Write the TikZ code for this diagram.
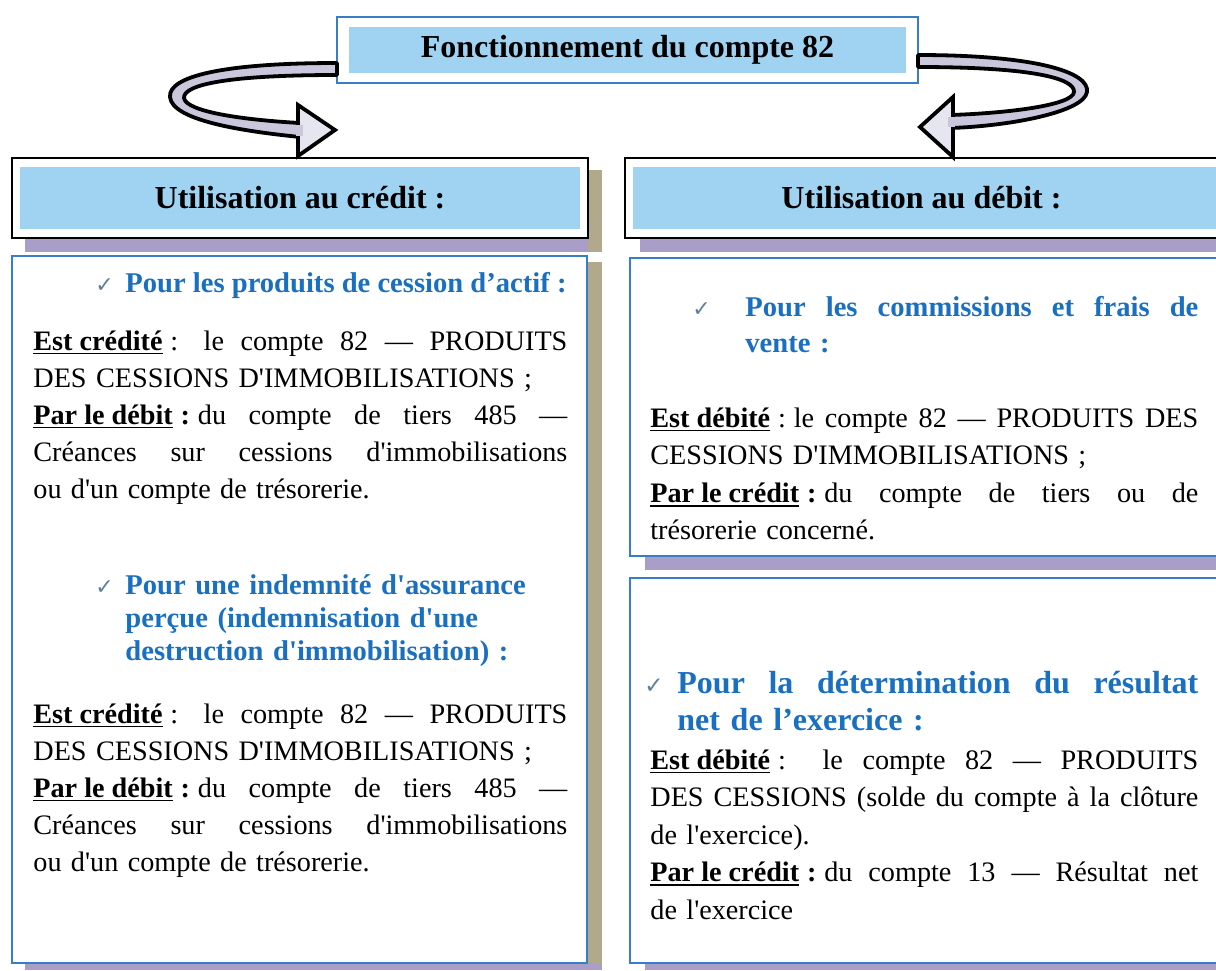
\documentclass[tikz,border=0pt]{standalone}
\usepackage{fontspec}
\usepackage{graphicx}
\newfontfamily\tms{Liberation Serif}
\newfontfamily\djv{DejaVu Sans}
\definecolor{bordblue}{RGB}{55,125,200}
\definecolor{band}{RGB}{160,210,242}
\definecolor{txtblue}{RGB}{26,112,192}
\definecolor{shpurple}{RGB}{168,158,200}
\definecolor{shtan}{RGB}{178,168,140}
\definecolor{ribbon}{RGB}{202,198,220}
\definecolor{headfill}{RGB}{230,230,240}
\definecolor{checkc}{RGB}{96,128,160}
\newcommand\jline[1]{\noindent{\spaceskip=\fontdimen2\font plus 1fil\relax\xspaceskip=\spaceskip
  \setbox0\hbox{#1}\ifdim\wd0>\hsize\resizebox{\hsize}{\height}{\box0}\else\hbox to \hsize{\unhbox0}\fi}}
\newcommand\ub[1]{\setbox2\hbox{\bfseries #1}\rlap{\rule[-2.2pt]{\wd2}{0.9pt}}\box2\relax}
\newcommand\fsp{\hspace{0.28em}}
\tikzset{
  titlebox/.style={draw=bordblue, line width=1pt, fill=white, minimum width=290.5pt, minimum height=33pt, inner sep=0,
    path picture={\fill[band] ([shift={(6pt,-5pt)}]path picture bounding box.north west) rectangle ([shift={(-6pt,5pt)}]path picture bounding box.south east);},
    font=\tms\bfseries\fontsize{16}{18}\selectfont},
  headbox/.style={draw=black, line width=1.1pt, fill=white, minimum height=40pt, inner sep=0,
    path picture={\fill[band] ([shift={(4pt,-4.5pt)}]path picture bounding box.north west) rectangle ([shift={(-4pt,4.5pt)}]path picture bounding box.south east);},
    font=\tms\bfseries\fontsize{16}{18}\selectfont},
  cbox/.style={draw=bordblue, line width=1pt, fill=white, inner sep=0},
  shp/.style={fill=shpurple},
  sht/.style={fill=shtan},
  bluehead/.style={font=\tms\bfseries\fontsize{14.3}{16.5}\selectfont, text=txtblue, inner sep=0, anchor=base west, align=left},
  bodytext/.style={font=\tms\fontsize{14.1}{18.5}\selectfont, inner sep=0, anchor=base west, align=left},
  chk/.style={font=\djv\fontsize{11}{12}\selectfont, text=checkc, inner sep=0, anchor=base west},
  rib/.style={draw=black, line width=1.9pt, line join=round, fill=ribbon},
  arrhead/.style={draw=black, line width=1.9pt, line join=miter, fill=headfill}
}
\begin{document}
\begin{tikzpicture}[x=0.5pt,y=-0.5pt]
\useasboundingbox (0,0) rectangle (1216,970);
% shadows
\fill[shp] (25,238) rectangle (602,252);
\fill[sht] (588,170) rectangle (602,252);
\fill[shp] (640,238) rectangle (1216,252);
\fill[sht] (587,262) rectangle (602,968);
\fill[shp] (25,963) rectangle (602,970);
\fill[shp] (645,556) rectangle (1216,570);
\fill[shp] (645,963) rectangle (1216,970);
% title
\node[titlebox] (title) at (627.5,50) {Fonctionnement du compte 82};
% headers
\node[headbox, minimum width=288pt] (hl) at (300,198) {Utilisation au crédit :};
\node[headbox, minimum width=302.5pt] (hr) at (927.5,198) {\hspace*{-6pt}Utilisation au débit :};
% content boxes
\node[cbox, minimum width=287.5pt, minimum height=353.5pt] (bl) at (299.5,609.5) {};
\node[cbox, minimum width=300pt, minimum height=149pt] (br1) at (930,407) {};
\node[cbox, minimum width=300pt, minimum height=192.5pt] (br2) at (930,770.5) {};
% ribbons (left)
\draw[rib] (337,63) .. controls (225,63) and (168,76) .. (170,97) .. controls (172,120) and (240,131) .. (300,137)
  -- (300,123) .. controls (245,120) and (186,112) .. (184,98) .. controls (183,84) and (232,75) .. (337,75) -- cycle;
\draw[arrhead] (298,105) -- (335,130) -- (298,156) -- cycle;
\fill[ribbon] (296,124.5) rectangle (303,135.5);
% ribbons (right)
\draw[rib] (918,55) .. controls (1035,55) and (1090,72) .. (1087,92) .. controls (1084,112) and (1010,126) .. (951,128)
  -- (951,115) .. controls (1010,113) and (1073,105) .. (1074,92) .. controls (1075,78) and (1030,67) .. (918,67) -- cycle;
\draw[arrhead] (953,97) -- (920,127) -- (953,157) -- cycle;
\fill[ribbon] (948,116.5) rectangle (955,126.5);
% left box texts
\node[chk] (c1) at (95,292) {✓};
\node[bluehead] (h1) at (125,292) {Pour les produits de cession d’actif :};
\node[bodytext, text width=267pt] (t1) at (33,350) {%
\jline{\ub{Est crédité}\fsp:\hspace{0.9em}le compte 82 — PRODUITS}\\
DES CESSIONS D'IMMOBILISATIONS ;\\
\jline{\ub{Par le débit}\fsp\textbf{:}\fsp du compte de tiers 485 —}\\
\jline{Créances sur cessions d'immobilisations}\\
ou d'un compte de trésorerie.};
\node[chk] (c2) at (95,594) {✓};
\node[bluehead, text width=221pt] (h2) at (125,594) {Pour une indemnité d'assurance\\perçue (indemnisation d'une\\destruction d'immobilisation) :};
\node[bodytext, text width=267pt] (t2) at (33,723) {%
\jline{\ub{Est crédité}\fsp:\hspace{0.9em}le compte 82 — PRODUITS}\\
DES CESSIONS D'IMMOBILISATIONS ;\\
\jline{\ub{Par le débit}\fsp\textbf{:}\fsp du compte de tiers 485 —}\\
\jline{Créances sur cessions d'immobilisations}\\
ou d'un compte de trésorerie.};
% right box 1 texts
\node[chk] (c3) at (692,316) {✓};
\node[bluehead, font=\tms\bfseries\fontsize{14.3}{18}\selectfont, text width=226.5pt] (h3) at (745,316) {%
\jline{Pour les commissions et frais de}\\
vente :};
\node[bodytext, font=\tms\fontsize{14.1}{18.8}\selectfont, text width=274pt] (t3) at (650,427) {%
\jline{\ub{Est débité}\fsp:\fsp le compte 82 — PRODUITS DES}\\
CESSIONS D'IMMOBILISATIONS ;\\
\jline{\ub{Par le crédit}\fsp\textbf{:}\fsp du compte de tiers ou de}\\
trésorerie concerné.};
% right box 2 texts
\node[chk, font=\djv\fontsize{11.5}{12}\selectfont] (c4) at (644,693) {✓};
\node[bluehead, font=\tms\bfseries\fontsize{16}{18.5}\selectfont, text width=260.5pt] (h4) at (677,693) {%
\jline{Pour la détermination du résultat}\\
net de l’exercice :};
\node[bodytext, font=\tms\fontsize{14.1}{18.75}\selectfont, text width=274pt] (t4) at (650,769) {%
\jline{\ub{Est débité}\fsp:\hspace{1.3em}le compte 82 — PRODUITS}\\
\jline{DES CESSIONS (solde du compte à la clôture}\\
de l'exercice).\\
\jline{\ub{Par le crédit}\fsp\textbf{:}\fsp du compte 13 — Résultat net}\\
de l'exercice};
\end{tikzpicture}
\end{document}
